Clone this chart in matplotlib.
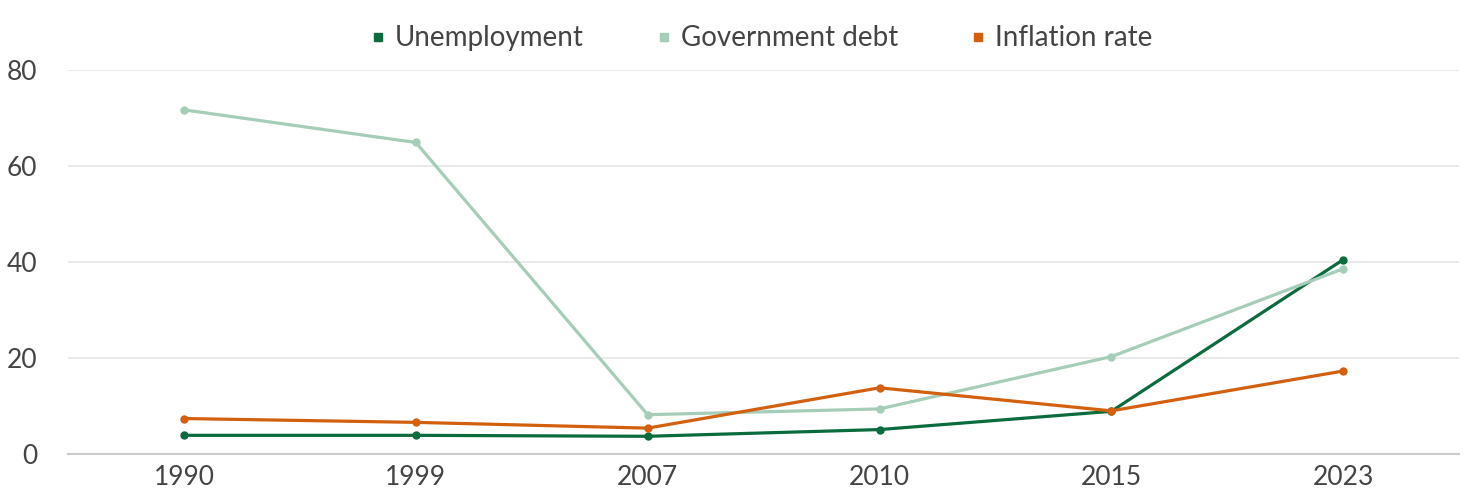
import matplotlib.pyplot as plt
from matplotlib.lines import Line2D

plt.rcParams['font.family'] = ['Lato', 'DejaVu Sans']

years = ['1990', '1999', '2007', '2010', '2015', '2023']
unemployment = [3.9, 3.9, 3.7, 5.1, 8.9, 40.5]
gov_debt = [71.7, 64.9, 8.2, 9.4, 20.3, 38.6]
inflation = [7.4, 6.6, 5.4, 13.8, 9.0, 17.3]

names = ['Unemployment', 'Government debt', 'Inflation rate']
colors = ['#0b6b3d', '#a6cdb7', '#d2600f']

fig = plt.figure(figsize=(14.69, 4.93), dpi=100)
ax = fig.add_axes([0.0463, 0.079, 0.947, 0.779])

x = range(len(years))
for vals, c in zip([unemployment, gov_debt, inflation], colors):
    ax.plot(x, vals, color=c, lw=2.3, marker='o', ms=5, solid_capstyle='round')

ax.set_xlim(-0.5, len(years) - 0.5)
ax.set_ylim(0, 80)
ax.set_yticks([0, 20, 40, 60, 80])
ax.set_xticks(list(x))
ax.set_xticklabels(years)
ax.grid(axis='y', color='#e6e6e6', lw=1.2)
ax.set_axisbelow(True)
for s in ['top', 'right', 'left']:
    ax.spines[s].set_visible(False)
ax.spines['bottom'].set_color('#cccccc')
ax.spines['bottom'].set_linewidth(1.5)
ax.tick_params(length=0, labelsize=19, colors='#444444')
ax.tick_params(axis='y', pad=22)
ax.tick_params(axis='x', pad=8)

handles = [Line2D([], [], color=c, marker='s', ls='none', ms=6) for c in colors]
fig.legend(handles, names, loc='center', bbox_to_anchor=(0.518, 0.922), ncol=3,
           frameon=False, fontsize=20, handlelength=0.6, handletextpad=0.3,
           columnspacing=2.6, labelcolor='#444444')

fig.savefig('out.png', dpi=100)
